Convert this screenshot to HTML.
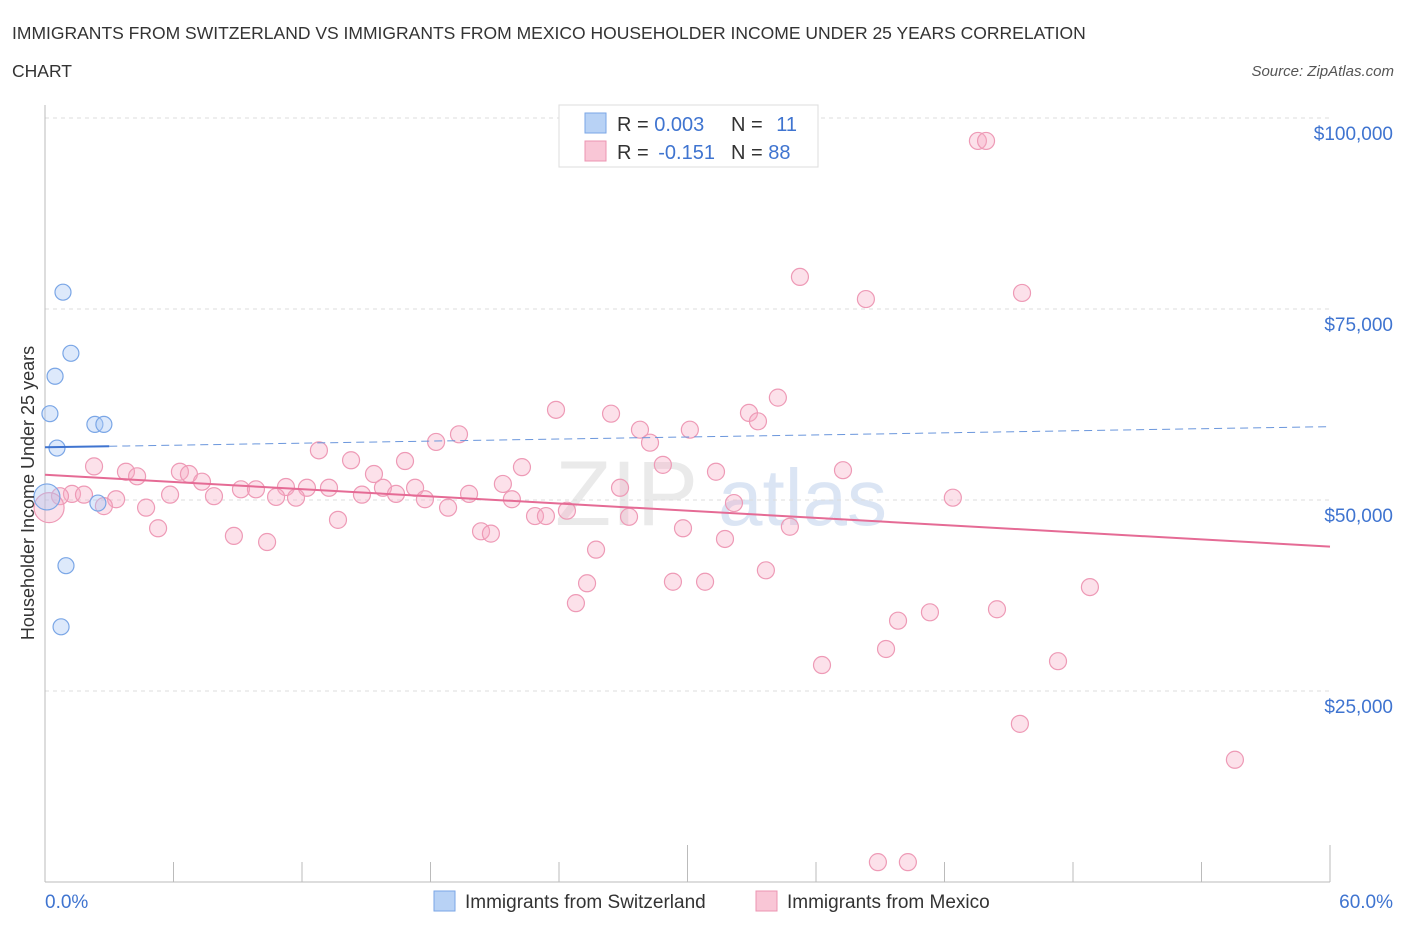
<!DOCTYPE html>
<html><head><meta charset="utf-8"><style>
body{margin:0;background:#fff;font-family:"Liberation Sans",sans-serif;}
svg text{font-family:"Liberation Sans",sans-serif;}
</style></head><body>
<svg id="chart" width="1406" height="930" xmlns="http://www.w3.org/2000/svg">
<text x="12" y="39" font-size="17.5" fill="#333">IMMIGRANTS FROM SWITZERLAND VS IMMIGRANTS FROM MEXICO HOUSEHOLDER INCOME UNDER 25 YEARS CORRELATION</text>
<text x="12" y="77" font-size="17.5" fill="#333">CHART</text>
<text x="1394" y="76" font-size="15" fill="#555" font-style="italic" text-anchor="end">Source: ZipAtlas.com</text>
<g><text x="555" y="525" font-size="92" fill="#ddd" font-family="Liberation Serif" opacity="0.6">ZIP</text><text x="718" y="525" font-size="80" fill="#b8cdea" opacity="0.5">atlas</text></g>
<g id="grid"></g><g id="axes"></g><g id="marks"></g>
<text transform="translate(34,493) rotate(-90)" font-size="18" fill="#333" text-anchor="middle">Householder Income Under 25 years</text>
<g>
<rect x="559" y="105" width="259" height="62" fill="#fff" stroke="#ddd"/>
<rect x="585" y="113" width="21" height="20" fill="#b8d2f5" stroke="#7aa6e6"/>
<rect x="585" y="141" width="21" height="20" fill="#f9c6d6" stroke="#ec94b2"/>
<text x="617" y="131" font-size="20" fill="#333">R = <tspan fill="#3f74d0">0.003</tspan></text>
<text x="731" y="131" font-size="20" fill="#333">N = <tspan fill="#3f74d0" dx="8">11</tspan></text>
<text x="617" y="159" font-size="20" fill="#333">R = <tspan fill="#3f74d0" dx="4">-0.151</tspan></text>
<text x="731" y="159" font-size="20" fill="#333">N = <tspan fill="#3f74d0">88</tspan></text>
</g>
<g>
<rect x="434" y="891" width="21" height="20" fill="#b8d2f5" stroke="#7aa6e6"/>
<text x="465" y="908" font-size="19" fill="#333">Immigrants from Switzerland</text>
<rect x="756" y="891" width="21" height="20" fill="#f9c6d6" stroke="#ec94b2"/>
<text x="787" y="908" font-size="19" fill="#333">Immigrants from Mexico</text>
</g>
</svg>
<script>
const swissX=[0.84,1.21,0.47,0.23,2.33,2.75,0.56,0.09,2.47,0.98,0.75];
const swissY=[77.2,69.2,66.2,61.3,59.9,59.9,56.8,50.4,49.6,41.4,33.4];
const mexX=[43.56,43.94,35.25,38.33,45.62,23.86,26.43,32.87,34.22,33.29,19.33,18.26,27.78,30.11,28.25,12.79,2.29,14.29,16.81,22.27,28.85,31.33,37.26,6.30,3.78,4.30,6.72,15.36,7.33,9.15,9.85,11.25,12.23,13.26,15.78,17.28,21.38,26.85,5.84,7.89,10.79,11.72,14.80,16.39,17.74,19.80,21.80,3.32,1.26,1.82,0.70,2.75,4.72,18.82,22.88,23.39,24.37,27.27,32.17,42.39,0.19,5.28,8.82,10.37,13.68,20.36,20.82,29.79,31.75,34.78,25.73,33.66,25.31,29.32,30.82,24.79,39.83,41.32,44.45,48.79,36.28,39.27,47.30,45.52,55.56,38.89,40.29];
const mexY=[97.0,97.0,79.2,76.3,77.1,61.8,61.3,61.4,63.4,60.3,58.6,57.6,59.2,59.2,57.5,56.5,54.4,55.2,55.1,54.3,54.6,53.7,53.9,53.7,53.7,53.1,53.4,53.4,52.4,51.4,51.4,51.7,51.6,51.6,51.6,51.6,52.1,51.6,50.7,50.5,50.4,50.3,50.7,50.8,50.1,50.8,50.1,50.1,50.8,50.7,50.5,49.2,49.0,49.0,47.9,47.9,48.6,47.8,49.6,50.3,49.0,46.3,45.3,44.5,47.4,45.9,45.6,46.3,44.9,46.5,43.5,40.8,39.1,39.3,39.3,36.5,34.2,35.3,35.7,38.6,28.4,30.5,28.9,20.7,16.0,2.6,2.6];
const yTicks=[25,50,75,100];
const yTickLabels=["$25,000","$50,000","$75,000","$100,000"];
const swissTrend=[56.9,59.6];
const mexTrend=[53.3,43.9];
const swissBig=7, mexBig=60;
const NS="http://www.w3.org/2000/svg";
const X=v=>45+v/60*1285;
const Y=v=>882-v/100*764;
function mk(tag,attrs,parent){const e=document.createElementNS(NS,tag);for(const k in attrs)e.setAttribute(k,attrs[k]);document.getElementById(parent).appendChild(e);return e;}
yTicks.forEach((t,i)=>{
 const g=mk('line',{x1:45,x2:1330,y1:Y(t),y2:Y(t),stroke:'#ddd','stroke-dasharray':'4,4'},'grid');
 
 
 const l=mk('text',{x:1393,y:Y(t)+22,'font-size':19,fill:'#3f74d0','text-anchor':'end'},'grid');
 l.textContent=yTickLabels[i];
 
 
});
const ax=mk('line',{x1:45,x2:1330,y1:882,y2:882,stroke:'#bbb'},'axes');


const ay=mk('line',{x1:45,x2:45,y1:105,y2:882,stroke:'#bbb'},'axes');


for(let i=1;i<=10;i++){
 const t=mk('line',{x1:X(i*6),x2:X(i*6),y1:(i==5||i==10)?845:862,y2:882,stroke:'#bbb'},'axes');
 
 
}
const xl0=mk('text',{x:45,y:908,'font-size':19,fill:'#3f74d0'},'axes');xl0.textContent='0.0%';


const xl1=mk('text',{x:1393,y:908,'font-size':19,fill:'#3f74d0','text-anchor':'end'},'axes');xl1.textContent='60.0%';


mexX.forEach((v,i)=>{
 const c=mk('circle',{cx:X(v),cy:Y(mexY[i]),r:i==mexBig?15:8.5,fill:'rgba(246,170,196,0.35)',stroke:'#ee9ab6','stroke-width':1.2},'marks');
 
 
});
swissX.forEach((v,i)=>{
 const c=mk('circle',{cx:X(v),cy:Y(swissY[i]),r:i==swissBig?13:8,fill:'rgba(170,200,245,0.4)',stroke:'#7aa6e6','stroke-width':1.2},'marks');
 
 
});
const mt=mk('line',{x1:X(0),x2:X(60),y1:Y(mexTrend[0]),y2:Y(mexTrend[1]),stroke:'#e56b95','stroke-width':2},'marks');


const sy=v=>swissTrend[0]+(swissTrend[1]-swissTrend[0])*v/60;
const st1=mk('line',{x1:X(0),x2:X(3),y1:Y(sy(0)),y2:Y(sy(3)),stroke:'#3f74d0','stroke-width':2},'marks');


const st2=mk('line',{x1:X(3),x2:X(60),y1:Y(sy(3)),y2:Y(sy(60)),stroke:'#6a96dc','stroke-width':1,'stroke-dasharray':'8,5'},'marks');


</script>
</body></html>
